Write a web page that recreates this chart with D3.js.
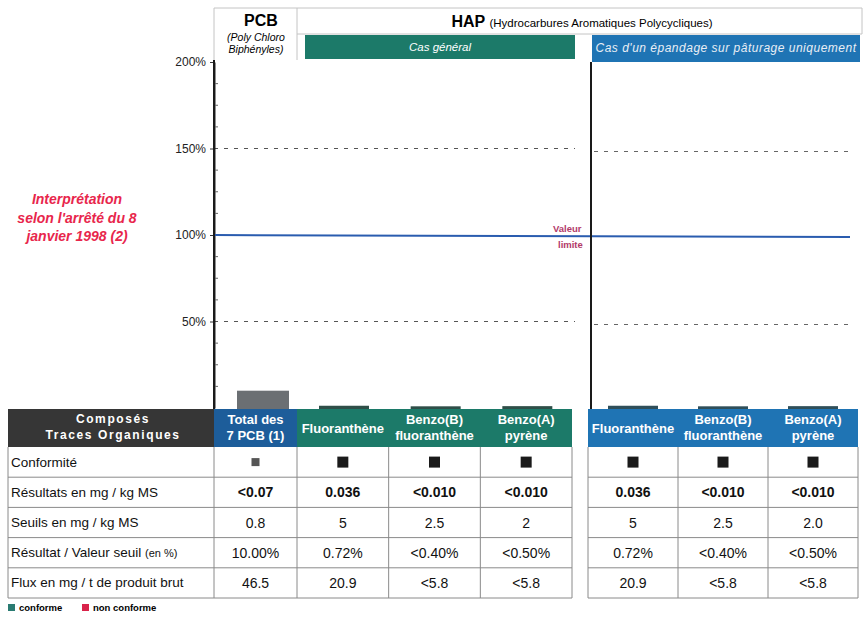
<!DOCTYPE html>
<html><head><meta charset="utf-8">
<script src="https://cdnjs.cloudflare.com/ajax/libs/d3/7.8.5/d3.min.js"></script>
<style>body{margin:0;background:#fff}svg{display:block;font-family:"Liberation Sans",Arial,sans-serif}</style>
</head><body><svg id="c" width="866" height="621"></svg>
<script>
// ---- data ----
const yTicks = [50, 100, 150, 200];
const pcbCompound = ["Total des", "7 PCB (1)"];
const hapCompounds = [["Fluoranthène"], ["Benzo(B)", "fluoranthène"], ["Benzo(A)", "pyrène"]];
const pcbValue = 10.0;            // % of threshold
const hapGeneralValues = [0.72, 0.40, 0.50];
const hapPastureValues = [0.72, 0.40, 0.50];
const limitValue = 100;
const rowLabels = ["Conformité", "Résultats en mg / kg MS", "Seuils en mg / kg MS", "Résultat / Valeur seuil (en %)", "Flux en mg / t de produit brut"];
const pcbRows = ["■", "<0.07", "0.8", "10.00%", "46.5"];
const hapGeneralRows = [
  ["■", "0.036", "5", "0.72%", "20.9"],
  ["■", "<0.010", "2.5", "<0.40%", "<5.8"],
  ["■", "<0.010", "2", "<0.50%", "<5.8"]
];
const hapPastureRows = [
  ["■", "0.036", "5", "0.72%", "20.9"],
  ["■", "<0.010", "2.5", "<0.40%", "<5.8"],
  ["■", "<0.010", "2.0", "<0.50%", "<5.8"]
];
const legendItems = [{label: "conforme", color: "#2a7b72"}, {label: "non conforme", color: "#d9234a"}];

// ---- layout ----
const svg = d3.select("#c");
const axisX = 214, axisX2 = 591;
const y = d3.scaleLinear().domain([0, 200]).range([408, 62]);
const xPCB = d3.scaleBand().domain([0]).range([214, 297]);
const xGen = d3.scaleBand().domain(d3.range(3)).range([297, 572]);
const xPas = d3.scaleBand().domain(d3.range(3)).range([588, 858]);
const GREEN = "#1c7a69", BLUE = "#1f74b4", DBLUE = "#1d5d9a";

// top header boxes
svg.append("path").attr("d", "M214,60V8H862V34H297V60").attr("fill", "none").attr("stroke", "#c4c4c4");
svg.append("path").attr("d", "M297,8V34").attr("fill", "none").attr("stroke", "#c4c4c4");
svg.append("text").attr("x", 261).attr("y", 26).attr("text-anchor", "middle").attr("font-weight", "bold").attr("font-size", 16).text("PCB");
svg.append("text").attr("x", 256).attr("y", 41).attr("text-anchor", "middle").attr("font-style", "italic").attr("font-size", 10.5).text("(Poly Chloro");
svg.append("text").attr("x", 256).attr("y", 53).attr("text-anchor", "middle").attr("font-style", "italic").attr("font-size", 10.5).text("Biphényles)");
const hap = svg.append("text").attr("x", 582).attr("y", 27).attr("text-anchor", "middle");
hap.append("tspan").attr("font-weight", "bold").attr("font-size", 16).text("HAP ");
hap.append("tspan").attr("font-size", 11.5).text("(Hydrocarbures Aromatiques Polycycliques)");
svg.append("rect").attr("x", 305).attr("y", 35).attr("width", 270).attr("height", 24).attr("fill", GREEN);
svg.append("text").attr("x", 440).attr("y", 51).attr("text-anchor", "middle").attr("fill", "#fff").attr("font-style", "italic").attr("font-size", 11.5).text("Cas général");
svg.append("rect").attr("x", 592).attr("y", 35).attr("width", 268).attr("height", 27).attr("fill", BLUE);
svg.append("text").attr("x", 726).attr("y", 52).attr("text-anchor", "middle").attr("fill", "#e8eef5").attr("font-style", "italic").attr("font-size", 12).attr("letter-spacing", 0.5).text("Cas d'un épandage sur pâturage uniquement");

// gridlines
[150, 50].forEach(v => {
  svg.append("line").attr("x1", axisX).attr("x2", 575).attr("y1", y(v)).attr("y2", y(v)).attr("stroke", "#555").attr("stroke-dasharray", "4,6");
  svg.append("line").attr("x1", axisX2 + 3).attr("x2", 852).attr("y1", y(v) + 3).attr("y2", y(v) + 3).attr("stroke", "#666").attr("stroke-dasharray", "4,6");
});

// axis
const axis = d3.axisLeft(y).tickValues(yTicks).tickFormat(d => d + "%").tickSize(4).tickSizeOuter(0);
const ag = svg.append("g").attr("class", "yaxis").attr("transform", `translate(${axisX},0)`).call(axis);
ag.select(".domain").attr("stroke", "#222").attr("stroke-width", 2);
ag.selectAll(".tick text").attr("font-size", 12).attr("fill", "#222").attr("x", -8).attr("font-family", "Liberation Sans, Arial");
ag.selectAll(".tick line").attr("stroke", "#333");
svg.append("g").selectAll("line").data(d3.range(12.5, 200, 12.5).filter(v => v % 50 !== 0)).join("line")
  .attr("x1", axisX).attr("x2", axisX + 4).attr("y1", d => y(d)).attr("y2", d => y(d)).attr("stroke", "#666");

// bars
svg.append("rect").attr("x", xPCB(0) + 23).attr("width", 52).attr("y", y(pcbValue)).attr("height", y(0) - y(pcbValue) + 1).attr("fill", "#6b6f73");
svg.append("g").selectAll("rect").data(hapGeneralValues).join("rect")
  .attr("x", (d, i) => xGen(i) + 22).attr("width", 50).attr("y", d => y(d) - 1).attr("height", d => y(0) - y(d) + 2).attr("fill", "#2f4f48");
svg.append("g").selectAll("rect").data(hapPastureValues).join("rect")
  .attr("x", (d, i) => xPas(i) + 20).attr("width", 50).attr("y", d => y(d) - 1).attr("height", d => y(0) - y(d) + 2).attr("fill", "#2f4f5a");

// limit line
svg.append("line").attr("x1", axisX).attr("x2", 850).attr("y1", y(limitValue)).attr("y2", y(limitValue) + 2).attr("stroke", "#2a5caf").attr("stroke-width", 2);
svg.append("clipPath").attr("id", "vl").append("rect").attr("x", 540).attr("y", 218).attr("width", 51).attr("height", 40);
const vl = svg.append("g").attr("clip-path", "url(#vl)").attr("fill", "#b23a6a").attr("font-weight", "bold").attr("font-size", 9.5);
vl.append("text").attr("x", 553).attr("y", 232).text("Valeur");
vl.append("text").attr("x", 558).attr("y", 248).text("limite");

// red interpretation text
const red = svg.append("g").attr("fill", "#e8264c").attr("font-weight", "bold").attr("font-style", "italic").attr("font-size", 14).attr("text-anchor", "middle");
["Interprétation", "selon l'arrêté du 8", "janvier  1998 (2)"].forEach((t, i) => red.append("text").attr("x", 77).attr("y", 204 + i * 18.5).text(t));

// ---- table ----
const headTop = 409, headH = 38, rowH = 30.2;
const rowY = d3.scaleBand().domain(d3.range(rowLabels.length)).range([headTop + headH, headTop + headH + rowH * rowLabels.length]);
// header
svg.append("rect").attr("x", 8).attr("y", headTop).attr("width", 206).attr("height", headH).attr("fill", "#363636");
const ht = svg.append("g").attr("fill", "#fff").attr("font-weight", "bold").attr("font-size", 12).attr("text-anchor", "middle").attr("letter-spacing", 1.6);
ht.append("text").attr("x", 113).attr("y", 423).text("Composés");
ht.append("text").attr("x", 113).attr("y", 439).text("Traces Organiques");
svg.append("rect").attr("x", xPCB(0)).attr("y", headTop).attr("width", xPCB.bandwidth()).attr("height", headH).attr("fill", DBLUE);
function headText(cx, lines) {
  const g = svg.append("g").attr("fill", "#fff").attr("font-weight", "bold").attr("font-size", 13).attr("text-anchor", "middle");
  lines.forEach((t, i) => g.append("text").attr("x", cx).attr("y", lines.length === 1 ? 433 : 424 + i * 16).text(t));
}
headText(xPCB(0) + xPCB.bandwidth() / 2, pcbCompound);
svg.append("rect").attr("x", 297).attr("y", headTop).attr("width", 275).attr("height", headH).attr("fill", GREEN);
hapCompounds.forEach((c, i) => headText(xGen(i) + xGen.bandwidth() / 2, c));
svg.append("rect").attr("x", 588).attr("y", headTop).attr("width", 270).attr("height", headH).attr("fill", BLUE);
hapCompounds.forEach((c, i) => headText(xPas(i) + xPas.bandwidth() / 2, c));

// body grid
const bodyTop = headTop + headH, bodyBot = rowY.range()[1];
const grid = svg.append("g").attr("stroke", "#8a8a8a").attr("stroke-width", 1);
rowLabels.forEach((_, r) => {
  const yy = rowY(r) + rowH;
  grid.append("line").attr("x1", 8).attr("x2", 572).attr("y1", yy).attr("y2", yy);
  grid.append("line").attr("x1", 588).attr("x2", 858).attr("y1", yy).attr("y2", yy);
});
[8, 214, 297, ...d3.range(1, 3).map(i => xGen(i)), 572].forEach(x => grid.append("line").attr("x1", x).attr("x2", x).attr("y1", bodyTop).attr("y2", bodyBot));
[588, ...d3.range(1, 3).map(i => xPas(i)), 858].forEach(x => grid.append("line").attr("x1", x).attr("x2", x).attr("y1", bodyTop).attr("y2", bodyBot));

// row labels
svg.append("g").selectAll("text").data(rowLabels).join("text")
  .attr("x", 11).attr("y", (d, i) => rowY(i) + rowH / 2 + 4.5).attr("font-size", 13.5).attr("fill", "#111")
  .each(function (d) {
    const m = d.match(/^(.*?)(\(en %\))$/);
    if (m) { d3.select(this).text(m[1]); d3.select(this).append("tspan").attr("font-size", 11).text(m[2]); }
    else d3.select(this).text(d);
  });

function cellCol(cx, vals, small) {
  vals.forEach((v, r) => {
    const cy = rowY(r) + rowH / 2;
    if (r === 0) {
      const s = small ? 8 : 11;
      svg.append("rect").attr("x", cx - s / 2).attr("y", cy - s / 2).attr("width", s).attr("height", s).attr("fill", small ? "#555" : "#1a1a1a");
    } else {
      svg.append("text").attr("x", cx).attr("y", cy + 5).attr("text-anchor", "middle").attr("font-size", 14)
        .attr("font-weight", r === 1 ? "bold" : "normal").attr("fill", "#111").text(v);
    }
  });
}
cellCol(xPCB(0) + xPCB.bandwidth() / 2, pcbRows, true);
hapGeneralRows.forEach((col, i) => cellCol(xGen(i) + xGen.bandwidth() / 2, col));
hapPastureRows.forEach((col, i) => cellCol(xPas(i) + xPas.bandwidth() / 2, col));

// legend
const lg = svg.append("g").attr("font-size", 9.5).attr("font-weight", "bold");
let lx = 8;
legendItems.forEach(it => {
  lg.append("rect").attr("x", lx).attr("y", 604).attr("width", 7).attr("height", 7).attr("fill", it.color);
  lg.append("text").attr("x", lx + 11).attr("y", 611).text(it.label);
  lx += 74;
});

// panel axis lines (drawn last, on top)
svg.append("line").attr("x1", axisX).attr("x2", axisX).attr("y1", 60).attr("y2", 409).attr("stroke", "#1a1a1a").attr("stroke-width", 2);
svg.append("line").attr("x1", axisX2).attr("x2", axisX2).attr("y1", 62).attr("y2", 409).attr("stroke", "#1a1a1a").attr("stroke-width", 2);
</script></body></html>
